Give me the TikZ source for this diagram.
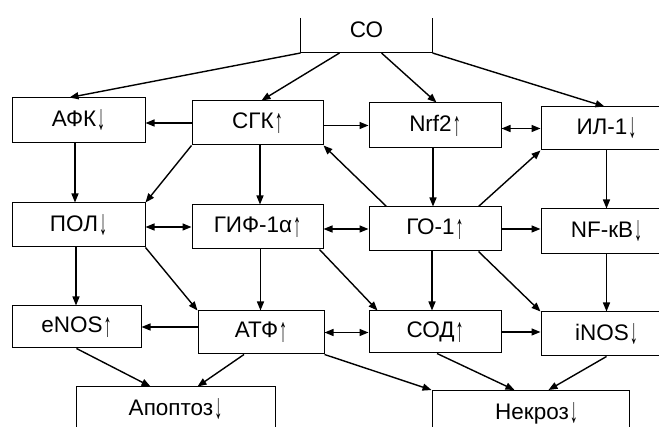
\documentclass[tikz,border=0pt]{standalone}
\usepackage{fontspec}
\setmainfont{Liberation Sans}
\usetikzlibrary{arrows.meta,calc}
\newcommand\uarr{\hspace{1pt}\raisebox{-5pt}{\resizebox{8pt}{20pt}{\raisebox{\depth}{↑}}}}
\newcommand\darr{\hspace{1pt}\raisebox{-4pt}{\resizebox{8pt}{21pt}{\raisebox{\depth}{↓}}}}
\tikzset{
  box/.style={draw, line width=1pt, rectangle, inner sep=0pt, font=\fontsize{22.5}{26}\selectfont},
  arr/.style={line width=1.4pt, -{Triangle[length=9pt,width=7pt]}},
  barr/.style={line width=1.4pt, {Triangle[length=9pt,width=7pt]}-{Triangle[length=9pt,width=7pt]}},
}
\begin{document}
\begin{tikzpicture}[x=1pt,y=-1pt]
\useasboundingbox (0,0) rectangle (659,427);
\clip (0,0) rectangle (659,427);
% CO (open-topped box)
\node[box, draw=none, minimum width=131pt, minimum height=45pt] (co) at (366.5,30) {СО};
\draw[line width=1pt] ([yshift=35pt]co.south west) -- (co.south west) -- (co.south east) -- ([yshift=35pt]co.south east);
% row 1
\node[box, minimum width=133pt, minimum height=45pt] (afk) at (78.5,120.5) {АФК\darr};
\node[box, minimum width=131pt, minimum height=44pt] (sgk) at (257.5,123) {СГК\uarr};
\node[box, minimum width=132pt, minimum height=45pt] (nrf) at (435,125.5) {Nrf2\uarr};
\node[box, minimum width=131pt, minimum height=43pt] (il) at (606.5,128.5) {ИЛ-1\darr};
% row 2
\node[box, minimum width=133pt, minimum height=44pt] (pol) at (78.5,225) {ПОЛ\darr};
\node[box, minimum width=131pt, minimum height=44pt] (gif) at (257.5,227) {ГИФ-1α\uarr};
\node[box, minimum width=132pt, minimum height=44pt] (go) at (435,229) {ГО-1\uarr};
\node[box, minimum width=131pt, minimum height=45pt] (nf) at (606.5,231.5) {NF-кВ\darr};
% row 3
\node[box, minimum width=129pt, minimum height=42pt] (enos) at (76.5,327) {eNOS\uarr};
\node[box, minimum width=126pt, minimum height=43pt] (atf) at (261,332.5) {АТФ\uarr};
\node[box, minimum width=132pt, minimum height=42pt] (sod) at (435,332) {СОД\uarr};
\node[box, minimum width=131pt, minimum height=44pt] (inos) at (606.5,334) {iNOS\darr};
% row 4
\node[box, minimum width=199pt, minimum height=45pt] (apo) at (175.5,409.5) {Апоптоз\darr};
\node[box, minimum width=197pt, minimum height=45pt] (nek) at (530.5,413) {\hspace*{12pt}Некроз\darr};
% from CO
\draw[arr] (co.south west) -- ([xshift=58pt]afk.north west);
\draw[arr] ([xshift=39pt]co.south west) -- ([xshift=70pt]sgk.north west);
\draw[arr] ([xshift=81pt]co.south west) -- ([xshift=68pt]nrf.north west);
\draw[arr] (co.south east) -- ([xshift=64pt]il.north west);
% row 1 horizontals
\draw[arr] (sgk.west) -- (sgk.west -| afk.east);
\draw[arr] (sgk.east |- nrf.west) -- (nrf.west);
\draw[barr] (il.west -| nrf.east) -- (il.west);
% row 1 -> row 2
\draw[arr] ([xshift=-3.5pt]afk.south) -- ([xshift=-3.5pt]afk.south |- pol.north);
\draw[arr] (sgk.south west) -- (pol.north east);
\draw[arr] ([xshift=2.5pt]sgk.south) -- ([xshift=2.5pt]sgk.south |- gif.north);
\draw[arr] ([xshift=18pt]go.north west) -- (sgk.south east);
\draw[arr] ([xshift=-2pt]nrf.south) -- ([xshift=-2pt]nrf.south |- go.north);
\draw[arr] ([xshift=110pt]go.north west) -- (il.south west);
\draw[arr] (il.south) -- (il.south |- nf.north);
% row 2 horizontals
\draw[barr] (gif.west -| pol.east) -- (gif.west);
\draw[barr] (go.west -| gif.east) -- (go.west);
\draw[arr] (go.east) -- (go.east -| nf.west);
% row 2 -> row 3
\draw[arr] ([xshift=-2.5pt]pol.south) -- ([xshift=-2.5pt]pol.south |- enos.north);
\draw[arr] (pol.south east) -- (atf.north west);
\draw[arr] ([xshift=3pt]gif.south) -- ([xshift=3pt]gif.south |- atf.north);
\draw[arr] ([xshift=-4pt]gif.south east) -- ([xshift=9pt]sod.north west);
\draw[arr] ([xshift=-3pt]go.south) -- ([xshift=-3pt]go.south |- sod.north);
\draw[arr] ([xshift=110pt]go.south west) -- (inos.north west);
\draw[arr] (nf.south) -- (nf.south |- inos.north);
% row 3 horizontals
\draw[arr] (enos.east -| atf.west) -- (enos.east);
\draw[barr] (atf.east) -- (atf.east -| sod.west);
\draw[arr] (sod.east) -- (sod.east -| inos.west);
% row 3 -> row 4
\draw[arr] (enos.south) -- ([xshift=75pt]apo.north west);
\draw[arr] ([xshift=-17pt]atf.south) -- ([xshift=122pt]apo.north west);
\draw[arr] (atf.south east) -- (nek.north west);
\draw[arr] ([xshift=2pt]sod.south) -- ([xshift=83pt]nek.north west);
\draw[arr] (inos.south) -- ([xshift=117pt]nek.north west);
\end{tikzpicture}
\end{document}
